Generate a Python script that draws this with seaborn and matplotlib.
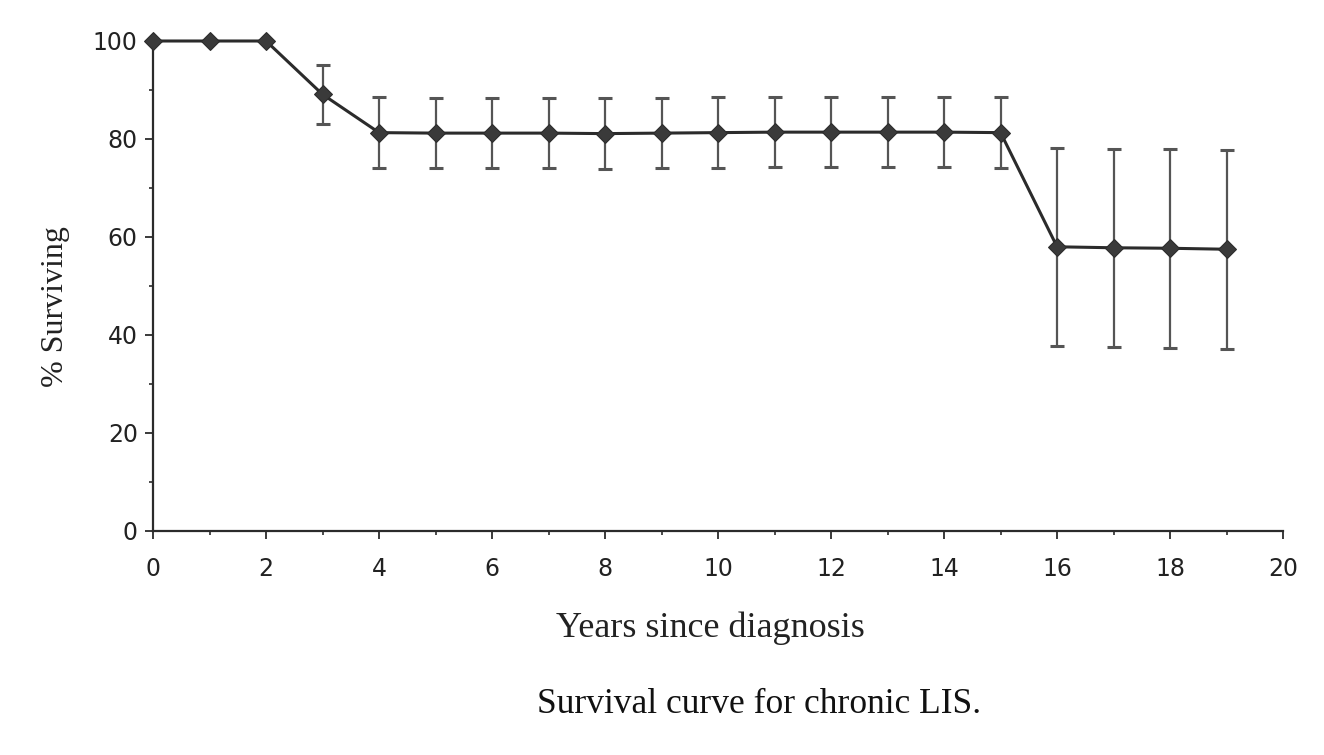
import numpy as np
import pandas as pd
import matplotlib
matplotlib.use("Agg")
import matplotlib.pyplot as plt
import seaborn as sns
from matplotlib.ticker import MultipleLocator

# values
years = list(range(20))
surviving = [100, 100, 100, 89.1, 81.3, 81.2, 81.2, 81.2, 81.1, 81.2, 81.3, 81.4,
             81.4, 81.4, 81.4, 81.3, 58.0, 57.8, 57.7, 57.5]
err = [0, 0, 0, 6.1, 7.2, 7.2, 7.2, 7.2, 7.2, 7.2, 7.2, 7.2,
       7.2, 7.2, 7.2, 7.2, 20.2, 20.2, 20.3, 20.3]

x_ticks = [0, 2, 4, 6, 8, 10, 12, 14, 16, 18, 20]
y_ticks = [0, 20, 40, 60, 80, 100]

df = pd.DataFrame({"year": years, "surv": surviving, "err": err})

sns.set_style("ticks")
plt.rcParams["font.family"] = ["DejaVu Sans"]

fig = plt.figure(figsize=(13.24, 7.55), dpi=100)
ax = fig.add_axes([0.1156, 0.2967, 0.8535, 0.649])

ink = "#2b2b2b"

# error bars (only where there is an error)
has_err = df[df["err"] > 0]
ax.errorbar(has_err["year"], has_err["surv"], yerr=has_err["err"], fmt="none",
            ecolor="#555555", elinewidth=1.6, capsize=5, capthick=2.2, zorder=2)

sns.lineplot(data=df, x="year", y="surv", ax=ax, color=ink, linewidth=2.2,
             marker="D", markersize=9, markeredgecolor=ink, markerfacecolor="#3a3a3a",
             zorder=3, clip_on=False)

ax.set_xlim(0, 20)
ax.set_ylim(0, 100)
ax.set_xticks(x_ticks)
ax.set_yticks(y_ticks)
ax.xaxis.set_minor_locator(MultipleLocator(1))
ax.yaxis.set_minor_locator(MultipleLocator(10))
ax.tick_params(axis="both", which="major", direction="out", length=6, width=1.3,
               color=ink, labelsize=17, labelcolor="#222222")
ax.tick_params(axis="x", which="major", pad=13)
ax.tick_params(axis="y", which="major", pad=5)
ax.tick_params(axis="both", which="minor", direction="out", length=3, width=1.2, color=ink)

sns.despine(ax=ax)
for side in ["left", "bottom"]:
    ax.spines[side].set_color(ink)
    ax.spines[side].set_linewidth(1.6)

ax.set_xlabel("Years since diagnosis", family=["Liberation Serif"], fontsize=26,
              color="#222222")
ax.xaxis.set_label_coords(0.4935, -0.165)
ax.set_ylabel("% Surviving", family=["Liberation Serif"], fontsize=23,
              color="#222222")
ax.yaxis.set_label_coords(-0.0735, 0.459)

fig.text(0.573, 0.0556, "Survival curve for chronic LIS.", family=["Liberation Serif"],
         fontsize=25.5, color="#111111", ha="center", va="baseline")

fig.savefig("out.png", dpi=100, facecolor="white")
